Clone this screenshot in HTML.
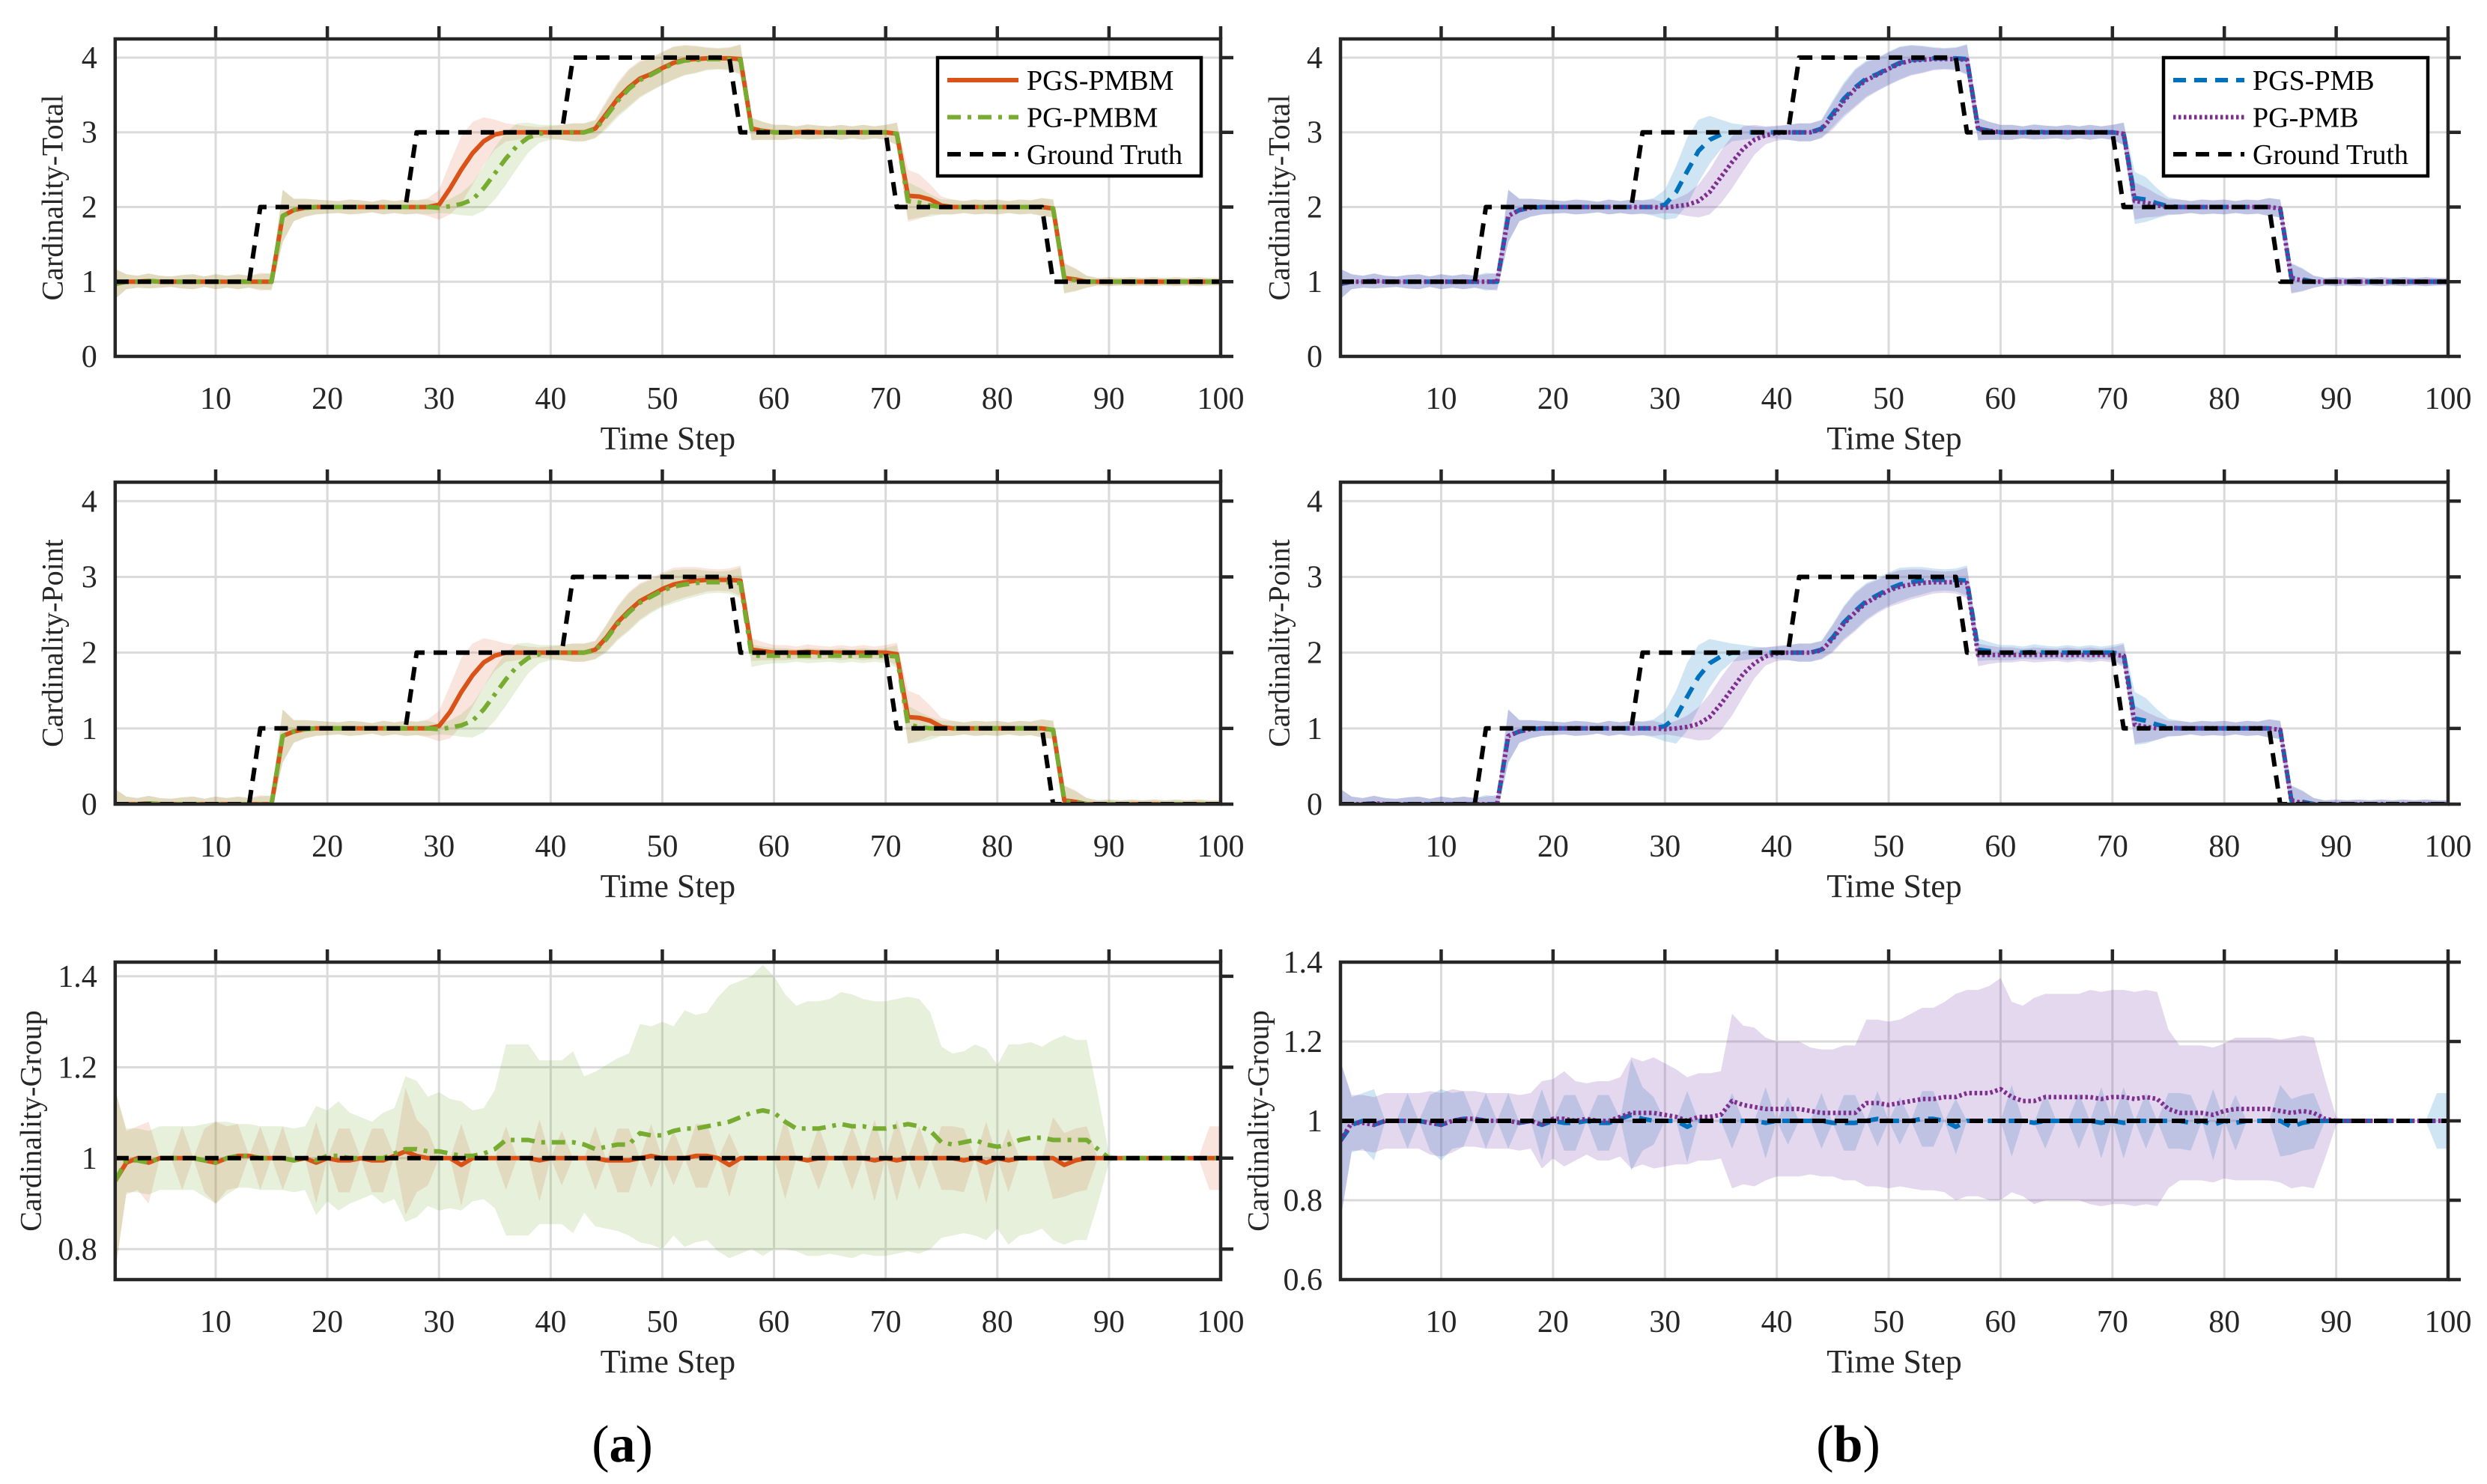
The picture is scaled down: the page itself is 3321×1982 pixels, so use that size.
<!DOCTYPE html>
<html><head><meta charset="utf-8"><style>
html,body{margin:0;padding:0;background:#fff;}
svg{display:block;font-family:"Liberation Serif",serif;}
</style></head><body>
<svg id="fig" xmlns="http://www.w3.org/2000/svg" width="3321" height="1982" viewBox="0 0 3321 1982">
<rect x="0" y="0" width="3321" height="1982" fill="#fff"/>
<text x="831" y="1952" font-size="70" text-anchor="middle">(<tspan font-weight="bold">a</tspan>)</text>
<text x="2468" y="1952" font-size="70" text-anchor="middle">(<tspan font-weight="bold">b</tspan>)</text>
</svg>
<script>
const timeSteps = Array.from({length:100},(_,i)=>i+1);
const xTicks = [10,20,30,40,50,60,70,80,90,100];
const yTicksCount = [0,1,2,3,4];
const yTicksGroupA = [0.8,1,1.2,1.4];
const yTicksGroupB = [0.6,0.8,1,1.2,1.4];
const yTickLabelsGroupA = ["0.8","1","1.2","1.4"];
const yTickLabelsGroupB = ["0.6","0.8","1","1.2","1.4"];

const gtT = [1,1,1,1,1,1,1,1,1,1, 1,1,1,2,2,2,2,2,2,2, 2,2,2,2,2,2,2,3,3,3, 3,3,3,3,3,3,3,3,3,3, 3,4,4,4,4,4,4,4,4,4, 4,4,4,4,4,4,3,3,3,3, 3,3,3,3,3,3,3,3,3,3, 2,2,2,2,2,2,2,2,2,2, 2,2,2,2,1,1,1,1,1,1, 1,1,1,1,1,1,1,1,1,1];
const gtP = [0,0,0,0,0,0,0,0,0,0, 0,0,0,1,1,1,1,1,1,1, 1,1,1,1,1,1,1,2,2,2, 2,2,2,2,2,2,2,2,2,2, 2,3,3,3,3,3,3,3,3,3, 3,3,3,3,3,3,2,2,2,2, 2,2,2,2,2,2,2,2,2,2, 1,1,1,1,1,1,1,1,1,1, 1,1,1,1,0,0,0,0,0,0, 0,0,0,0,0,0,0,0,0,0];
const gtG = [1,1,1,1,1,1,1,1,1,1, 1,1,1,1,1,1,1,1,1,1, 1,1,1,1,1,1,1,1,1,1, 1,1,1,1,1,1,1,1,1,1, 1,1,1,1,1,1,1,1,1,1, 1,1,1,1,1,1,1,1,1,1, 1,1,1,1,1,1,1,1,1,1, 1,1,1,1,1,1,1,1,1,1, 1,1,1,1,1,1,1,1,1,1, 1,1,1,1,1,1,1,1,1,1];

const pgsT = [0.97,1,1,1.01,1,1,1,1,1,1, 1,1,1,1,1,1.88,1.96,1.99,2,2, 2,2,2,2,2,2,2,2,2,2.03, 2.25,2.5,2.72,2.88,2.97,3,3,3,3,3, 3,3,3,3.05,3.25,3.45,3.6,3.72,3.78,3.86, 3.93,3.97,3.98,3.99,3.99,3.99,3.98,3.05,3.02,3, 3,3,3.01,3,3,3,3,3,3,3, 2.98,2.15,2.14,2.1,2.02,2,2,2,2,2, 2,2,2,2,1.98,1.05,1.03,1,1,1, 1,1,1,1,1,1,1,1,1,1];
const pgT = [0.97,1,1,1.01,1,1,1,1,1,1, 1,1,1,1,1,1.88,1.96,1.99,2,2, 2,2,2,2,2,2,2,2,2,1.99, 2.01,2.04,2.1,2.25,2.45,2.65,2.82,2.93,2.98,3, 3,3,3,3.04,3.22,3.42,3.58,3.7,3.77,3.85, 3.92,3.96,3.97,3.98,3.98,3.98,3.97,3.04,3.02,3, 3,3,3,3,3,3,3,3,3,3, 2.98,2.08,2.06,2.02,2,2,2,2,2,2, 2,2,2,2,1.98,1.04,1.02,1,1,1, 1,1,1,1,1,1,1,1,1,1];
const pgsP = [0,0,0,0.01,0,0,0,0,0,0, 0,0,0,0,0,0.9,0.96,0.99,1,1, 1,1,1,1,1,1,1,1,1,1.03, 1.22,1.48,1.7,1.87,1.96,2,2,2,2,2, 2,2,2,2.04,2.2,2.4,2.55,2.68,2.76,2.84, 2.9,2.93,2.95,2.96,2.96,2.96,2.95,2.04,2.02,2, 2,2,2.01,2,2,2,2,2,2,2, 1.98,1.15,1.14,1.1,1.02,1,1,1,1,1, 1,1,1,1,0.98,0.05,0.03,0,0,0, 0,0,0,0,0,0,0,0,0,0];
const pgP = [0,0,0,0.01,0,0,0,0,0,0, 0,0,0,0,0,0.9,0.96,0.99,1,1, 1,1,1,1,1,1,1,1,1,0.99, 1.01,1.04,1.1,1.25,1.45,1.65,1.82,1.93,1.98,2, 2,2,2,2.03,2.18,2.38,2.53,2.66,2.74,2.82, 2.87,2.9,2.92,2.93,2.93,2.93,2.92,1.96,1.96,1.96, 1.96,1.96,1.96,1.96,1.96,1.96,1.96,1.96,1.96,1.96, 1.95,1.05,1.02,1,1,1,1,1,1,1, 1,1,1,1,0.98,0.04,0.02,0,0,0, 0,0,0,0,0,0,0,0,0,0];

const pgsbT = [0.97,1,1,1.01,1,1,1,1,1,1, 1,1,1,1,1,1.88,1.96,1.99,2,2, 2,2,2,2,2,2,2,2,2,2.03, 2.2,2.48,2.75,2.9,2.97,3,3,3,3,3, 3,3,3,3.05,3.25,3.45,3.6,3.72,3.78,3.86, 3.93,3.97,3.98,3.99,3.99,3.99,3.98,3.05,3.02,3, 3,3,3.01,3,3,3,3,3,3,3, 2.98,2.12,2.1,2.05,2.01,2,2,2,2,2, 2,2,2,2,1.98,1.05,1.03,1,1,1, 1,1,1,1,1,1,1,1,1,1];
const pgbT = [0.97,1,1,1.01,1,1,1,1,1,1, 1,1,1,1,1,1.88,1.96,1.99,2,2, 2,2,2,2,2,2,2,2,2,1.99, 2.01,2.03,2.08,2.2,2.4,2.6,2.78,2.9,2.96,2.99, 3,3,3,3.04,3.22,3.42,3.58,3.7,3.77,3.85, 3.92,3.96,3.97,3.98,3.98,3.98,3.97,3.04,3.02,3, 3,3,3,3,3,3,3,3,3,3, 2.98,2.08,2.06,2.02,2,2,2,2,2,2, 2,2,2,2,1.98,1.04,1.02,1,1,1, 1,1,1,1,1,1,1,1,1,1];
const pgsbP = [0,0,0,0.01,0,0,0,0,0,0, 0,0,0,0,0,0.9,0.96,0.99,1,1, 1,1,1,1,1,1,1,1,1,1.03, 1.15,1.42,1.68,1.86,1.95,2,2,2,2,2, 2,2,2,2.04,2.2,2.4,2.55,2.68,2.76,2.84, 2.9,2.93,2.95,2.96,2.96,2.96,2.95,2.04,2.02,2, 2,2,2.01,2,2,2,2,2,2,2, 1.98,1.13,1.1,1.05,1.01,1,1,1,1,1, 1,1,1,1,0.98,0.05,0.03,0,0,0, 0,0,0,0,0,0,0,0,0,0];
const pgbP = [0,0,0,0.01,0,0,0,0,0,0, 0,0,0,0,0,0.9,0.96,0.99,1,1, 1,1,1,1,1,1,1,1,1,0.99, 1,1.02,1.06,1.15,1.32,1.52,1.72,1.86,1.95,1.99, 2,2,2,2.03,2.18,2.38,2.53,2.66,2.74,2.82, 2.87,2.9,2.92,2.93,2.93,2.93,2.92,1.97,1.97,1.97, 1.97,1.97,1.97,1.97,1.97,1.97,1.97,1.97,1.97,1.97, 1.96,1.05,1.02,1,1,1,1,1,1,1, 1,1,1,1,0.98,0.04,0.02,0,0,0, 0,0,0,0,0,0,0,0,0,0];

const bandO = [0.2,0.1,0.08,0.1,0.08,0.07,0.09,0.1,0.07,0.1, 0.08,0.1,0.08,0.12,0.1,0.35,0.15,0.12,0.1,0.09, 0.08,0.1,0.09,0.07,0.1,0.08,0.1,0.09,0.12,0.2, 0.35,0.45,0.42,0.32,0.2,0.12,0.1,0.08,0.07,0.08, 0.1,0.12,0.12,0.12,0.18,0.22,0.25,0.24,0.22,0.22, 0.22,0.2,0.18,0.15,0.14,0.15,0.2,0.15,0.12,0.1, 0.1,0.08,0.1,0.09,0.08,0.1,0.08,0.1,0.08,0.1, 0.15,0.35,0.3,0.2,0.12,0.1,0.08,0.1,0.09,0.1, 0.08,0.1,0.09,0.12,0.12,0.2,0.15,0.08,0.05,0.06, 0.05,0.06,0.05,0.06,0.05,0.06,0.05,0.06,0.05,0.05];
const bandG = [0.2,0.1,0.08,0.1,0.08,0.07,0.09,0.1,0.07,0.1, 0.08,0.1,0.08,0.1,0.12,0.35,0.15,0.12,0.1,0.09, 0.08,0.1,0.09,0.07,0.1,0.08,0.1,0.09,0.1,0.07, 0.1,0.15,0.22,0.3,0.35,0.35,0.3,0.2,0.12,0.1, 0.1,0.12,0.12,0.12,0.18,0.22,0.25,0.24,0.22,0.22, 0.22,0.2,0.18,0.15,0.14,0.15,0.2,0.15,0.12,0.1, 0.1,0.08,0.1,0.09,0.08,0.1,0.08,0.1,0.08,0.1, 0.15,0.25,0.2,0.15,0.1,0.1,0.08,0.1,0.09,0.1, 0.08,0.1,0.09,0.12,0.12,0.2,0.15,0.08,0.05,0.06, 0.05,0.06,0.05,0.06,0.05,0.06,0.05,0.06,0.05,0.05];

const pgsG = [0.95,0.99,1,0.99,1,1,1,1,0.995,0.99, 1,1.005,1.005,1,1,1,0.995,1,0.99,1, 0.995,0.995,1,0.995,0.995,1.005,1.015,1.005,1,1, 1,0.985,1,1,1,1,1,1,0.995,1, 1,1,1,1,0.995,0.995,0.995,1,1.005,1, 1,1,1.005,1.005,1,0.985,1,1,1,1, 1,1,0.995,1,1,1,1,1,0.995,1, 0.995,1,1,1,1,1,0.995,1,0.99,1, 0.995,1,1,1,1,0.985,0.995,1,1,1, 1,1,1,1,1,1,1,1,1,1];
const pgG = [0.95,0.995,0.995,0.99,1,1,1,1,0.995,0.99, 1,1.005,1.005,1,1,1,0.995,1,0.995,1.005, 1.005,1,1,1,1,1.01,1.02,1.02,1.015,1.015, 1.01,1.005,1.005,1.01,1.02,1.04,1.04,1.04,1.035,1.035, 1.035,1.035,1.03,1.02,1.025,1.03,1.03,1.055,1.05,1.05, 1.06,1.065,1.065,1.07,1.075,1.08,1.09,1.1,1.105,1.1, 1.08,1.065,1.065,1.065,1.07,1.075,1.07,1.07,1.065,1.065, 1.07,1.075,1.07,1.06,1.035,1.03,1.035,1.04,1.03,1.025, 1.03,1.04,1.045,1.045,1.04,1.04,1.04,1.04,1.02,1, 1,1,1,1,1,1,1,1,1,1];
const pgbG = [0.95,0.995,0.995,0.99,1,1,1,1,0.995,0.99, 1,1.005,1.005,1,1,1,0.995,1,0.99,1.005, 1.005,1,1.005,1,1,1.01,1.02,1.02,1.02,1.015, 1.01,1,1.01,1.01,1.015,1.05,1.04,1.035,1.03,1.03, 1.03,1.03,1.025,1.02,1.02,1.02,1.02,1.045,1.045,1.04, 1.045,1.05,1.055,1.055,1.06,1.06,1.07,1.07,1.07,1.08, 1.06,1.05,1.05,1.06,1.06,1.06,1.06,1.06,1.055,1.06, 1.06,1.055,1.06,1.055,1.03,1.02,1.02,1.02,1.015,1.025, 1.03,1.03,1.03,1.03,1.025,1.02,1.025,1.02,1.005,1, 1,1,1,1,1,1,1,1,1,1];

const bandPGS = [0.2,0.07,0.07,0.09,0,0,0.07,0,0.07,0.09, 0.07,0.07,0,0.07,0,0.07,0,0,0.09,0, 0.07,0.07,0,0.07,0.07,0,0.14,0.08,0.06,0, 0,0.09,0,0,0,0.07,0,0,0.09,0, 0.06,0,0,0.07,0,0.07,0.07,0,0.07,0, 0.06,0,0.07,0.07,0,0.07,0,0,0,0, 0.09,0,0,0.07,0,0,0.07,0,0.09,0, 0.09,0,0.07,0,0.07,0.07,0.07,0,0.09,0, 0.07,0,0,0,0.09,0.07,0.07,0.07,0,0, 0,0,0,0,0,0,0,0,0.07,0.07];
const bandPG = [0.2,0.07,0.07,0.07,0.07,0.07,0.07,0.07,0.08,0.09, 0.08,0.07,0.07,0.07,0.07,0.07,0.07,0.07,0.12,0.1, 0.12,0.1,0.09,0.08,0.1,0.1,0.16,0.15,0.12,0.13, 0.12,0.12,0.1,0.1,0.13,0.21,0.21,0.21,0.18,0.18, 0.18,0.2,0.15,0.17,0.18,0.19,0.2,0.24,0.24,0.25, 0.23,0.26,0.25,0.25,0.28,0.3,0.3,0.3,0.32,0.3, 0.28,0.27,0.28,0.28,0.28,0.29,0.29,0.28,0.28,0.28, 0.28,0.28,0.28,0.26,0.21,0.2,0.2,0.21,0.21,0.18, 0.22,0.21,0.21,0.2,0.22,0.23,0.22,0.22,0.12,0.01, 0,0,0,0,0,0,0,0,0,0];
const bandPGB = [0.2,0.07,0.07,0.07,0.07,0.07,0.07,0.07,0.08,0.08, 0.08,0.07,0.07,0.07,0.07,0.07,0.07,0.07,0.11,0.1, 0.12,0.1,0.09,0.1,0.1,0.1,0.14,0.13,0.14,0.13, 0.12,0.11,0.11,0.11,0.11,0.22,0.2,0.2,0.18,0.17, 0.17,0.17,0.16,0.16,0.16,0.17,0.17,0.21,0.21,0.21, 0.21,0.22,0.23,0.23,0.24,0.26,0.26,0.26,0.27,0.28, 0.24,0.24,0.26,0.26,0.26,0.26,0.26,0.27,0.27,0.27, 0.27,0.27,0.27,0.27,0.2,0.17,0.17,0.17,0.17,0.17, 0.18,0.18,0.18,0.18,0.18,0.19,0.19,0.19,0.1,0.01, 0,0,0,0,0,0,0,0,0,0];

const NS = "http://www.w3.org/2000/svg";
const svg = document.getElementById('fig');
function mk(tag, attrs, parent){
  const e = document.createElementNS(NS, tag);
  for (const k in attrs) e.setAttribute(k, attrs[k]);
  (parent||svg).appendChild(e);
  return e;
}
const C = {
  orange:{line:'#D95319', band:'rgba(217,83,25,0.15)', dash:'none'},
  green:{line:'#77AC30', band:'rgba(119,172,48,0.18)', dash:'18 9 5 9'},
  blue:{line:'#0072BD', band:'rgba(100,170,215,0.3)', dash:'17 11'},
  purple:{line:'#7E2F8E', band:'rgba(120,60,170,0.2)', dash:'3.5 3.5'},
  black:{line:'#000', band:null, dash:'18 12'}
};
const cols = [{x0:153.8, x1:1630}, {x0:1790, x1:3269}];
const rows = [{top:52, bot:476}, {top:644, bot:1074}, {top:1285, bot:1709}];

const panels = [
  {c:0,r:0,ylim:[0,4.25],yt:yTicksCount,ytl:null,ylab:'Cardinality-Total',lx:70,
   series:[{n:'PGS-PMBM',m:pgsT,b:bandO,s:'orange'},{n:'PG-PMBM',m:pgT,b:bandG,s:'green'},{n:'Ground Truth',m:gtT,b:null,s:'black'}],legend:[1252,77,352,158]},
  {c:1,r:0,ylim:[0,4.25],yt:yTicksCount,ytl:null,ylab:'Cardinality-Total',lx:1708,
   series:[{n:'PGS-PMB',m:pgsbT,b:bandO,s:'blue'},{n:'PG-PMB',m:pgbT,b:bandG,s:'purple'},{n:'Ground Truth',m:gtT,b:null,s:'black'}],legend:[2889,77,353,158]},
  {c:0,r:1,ylim:[0,4.25],yt:yTicksCount,ytl:null,ylab:'Cardinality-Point',lx:70,
   series:[{n:'PGS-PMBM',m:pgsP,b:bandO,s:'orange'},{n:'PG-PMBM',m:pgP,b:bandG,s:'green'},{n:'Ground Truth',m:gtP,b:null,s:'black'}]},
  {c:1,r:1,ylim:[0,4.25],yt:yTicksCount,ytl:null,ylab:'Cardinality-Point',lx:1708,
   series:[{n:'PGS-PMB',m:pgsbP,b:bandO,s:'blue'},{n:'PG-PMB',m:pgbP,b:bandG,s:'purple'},{n:'Ground Truth',m:gtP,b:null,s:'black'}]},
  {c:0,r:2,ylim:[0.733,1.431],yt:yTicksGroupA,ytl:yTickLabelsGroupA,ylab:'Cardinality-Group',lx:41,
   series:[{n:'PGS-PMBM',m:pgsG,b:bandPGS,s:'orange'},{n:'PG-PMBM',m:pgG,b:bandPG,s:'green'},{n:'Ground Truth',m:gtG,b:null,s:'black'}]},
  {c:1,r:2,ylim:[0.6,1.4],yt:yTicksGroupB,ytl:yTickLabelsGroupB,ylab:'Cardinality-Group',lx:1680,
   series:[{n:'PGS-PMB',m:pgsG,b:bandPGS,s:'blue'},{n:'PG-PMB',m:pgbG,b:bandPGB,s:'purple'},{n:'Ground Truth',m:gtG,b:null,s:'black'}]}
];

panels.forEach((p, pi) => {
  const X0 = cols[p.c].x0, X1 = cols[p.c].x1, T = rows[p.r].top, B = rows[p.r].bot;
  const xs = v => X0 + (v-1)/(99)*(X1-X0);
  const ys = v => B - (v-p.ylim[0])/(p.ylim[1]-p.ylim[0])*(B-T);
  const g = mk('g', {});
  
  
  const defs = mk('defs', {}, g);
  const cp = mk('clipPath', {id:'clip'+pi}, defs);
  mk('rect', {x:X0, y:T, width:X1-X0, height:B-T}, cp);
  xTicks.forEach(t => {
    const l = mk('line', {x1:xs(t), x2:xs(t), y1:T, y2:B, stroke:'#dadada', 'stroke-width':3}, g);
    
    
  });
  p.yt.forEach(t => {
    const l = mk('line', {x1:X0, x2:X1, y1:ys(t), y2:ys(t), stroke:'#dadada', 'stroke-width':3}, g);
    
    
  });
  const dg = mk('g', {'clip-path':'url(#clip'+pi+')'}, g);
  
  
  p.series.forEach(s => {
    if (!s.b) return;
    let d = '';
    timeSteps.forEach((t,i) => { d += (i?'L':'M') + xs(t).toFixed(1) + ',' + ys(s.m[i]+s.b[i]).toFixed(1); });
    for (let i = timeSteps.length-1; i >= 0; i--) d += 'L' + xs(timeSteps[i]).toFixed(1) + ',' + ys(s.m[i]-s.b[i]).toFixed(1);
    const pa = mk('path', {d:d+'Z', fill:C[s.s].band, stroke:'none'}, dg);
    
    
  });
  p.series.forEach(s => {
    const pts = timeSteps.map((t,i) => xs(t).toFixed(1) + ',' + ys(s.m[i]).toFixed(1)).join(' ');
    const pl = mk('polyline', {points:pts, fill:'none', stroke:C[s.s].line, 'stroke-width':6, 'stroke-dasharray':C[s.s].dash, 'stroke-linejoin':'round'}, dg);
    
    
  });
  const box = mk('rect', {x:X0, y:T, width:X1-X0, height:B-T, fill:'none', stroke:'#262626', 'stroke-width':4.5}, g);
  
  
  xTicks.forEach(t => {
    const l = mk('line', {x1:xs(t), x2:xs(t), y1:T, y2:T-17, stroke:'#262626', 'stroke-width':4.5}, g);
    
    
    const tx = mk('text', {x:xs(t), y:B+70, 'font-size':42, 'text-anchor':'middle', fill:'#262626'}, g);
    tx.textContent = String(t);
    
    
  });
  p.yt.forEach((t,i) => {
    const l = mk('line', {x1:X1, x2:X1+17, y1:ys(t), y2:ys(t), stroke:'#262626', 'stroke-width':4.5}, g);
    
    
    const tx = mk('text', {x:X0-24, y:ys(t)+14, 'font-size':42, 'text-anchor':'end', fill:'#262626'}, g);
    tx.textContent = p.ytl ? p.ytl[i] : String(t);
    
    
  });
  const xl = mk('text', {x:(X0+X1)/2, y:B+124, 'font-size':44, 'text-anchor':'middle', fill:'#262626'}, g);
  xl.textContent = 'Time Step';
  
  
  const yc = (T+B)/2;
  const yl = mk('text', {x:p.lx, y:yc, 'font-size':40, 'text-anchor':'middle', 'dominant-baseline':'central', fill:'#262626', transform:'rotate(-90 '+p.lx+' '+yc+')'}, g);
  yl.textContent = p.ylab;
  
  
  if (p.legend) {
    const [lx, ly, lw, lh] = p.legend;
    const lg = mk('g', {}, g);
    
    
    const r = mk('rect', {x:lx, y:ly, width:lw, height:lh, fill:'#fff', stroke:'#000', 'stroke-width':4.5}, lg);
    
    
    p.series.forEach((s, i) => {
      const yy = ly + 30 + i*49.5;
      const ll = mk('line', {x1:lx+13, x2:lx+108, y1:yy, y2:yy, stroke:C[s.s].line, 'stroke-width':6, 'stroke-dasharray':C[s.s].dash}, lg);
      
      
      const lt = mk('text', {x:lx+119, y:yy+13, 'font-size':38, fill:'#000'}, lg);
      lt.textContent = s.n;
      
      
    });
  }
});
</script>
</body></html>
